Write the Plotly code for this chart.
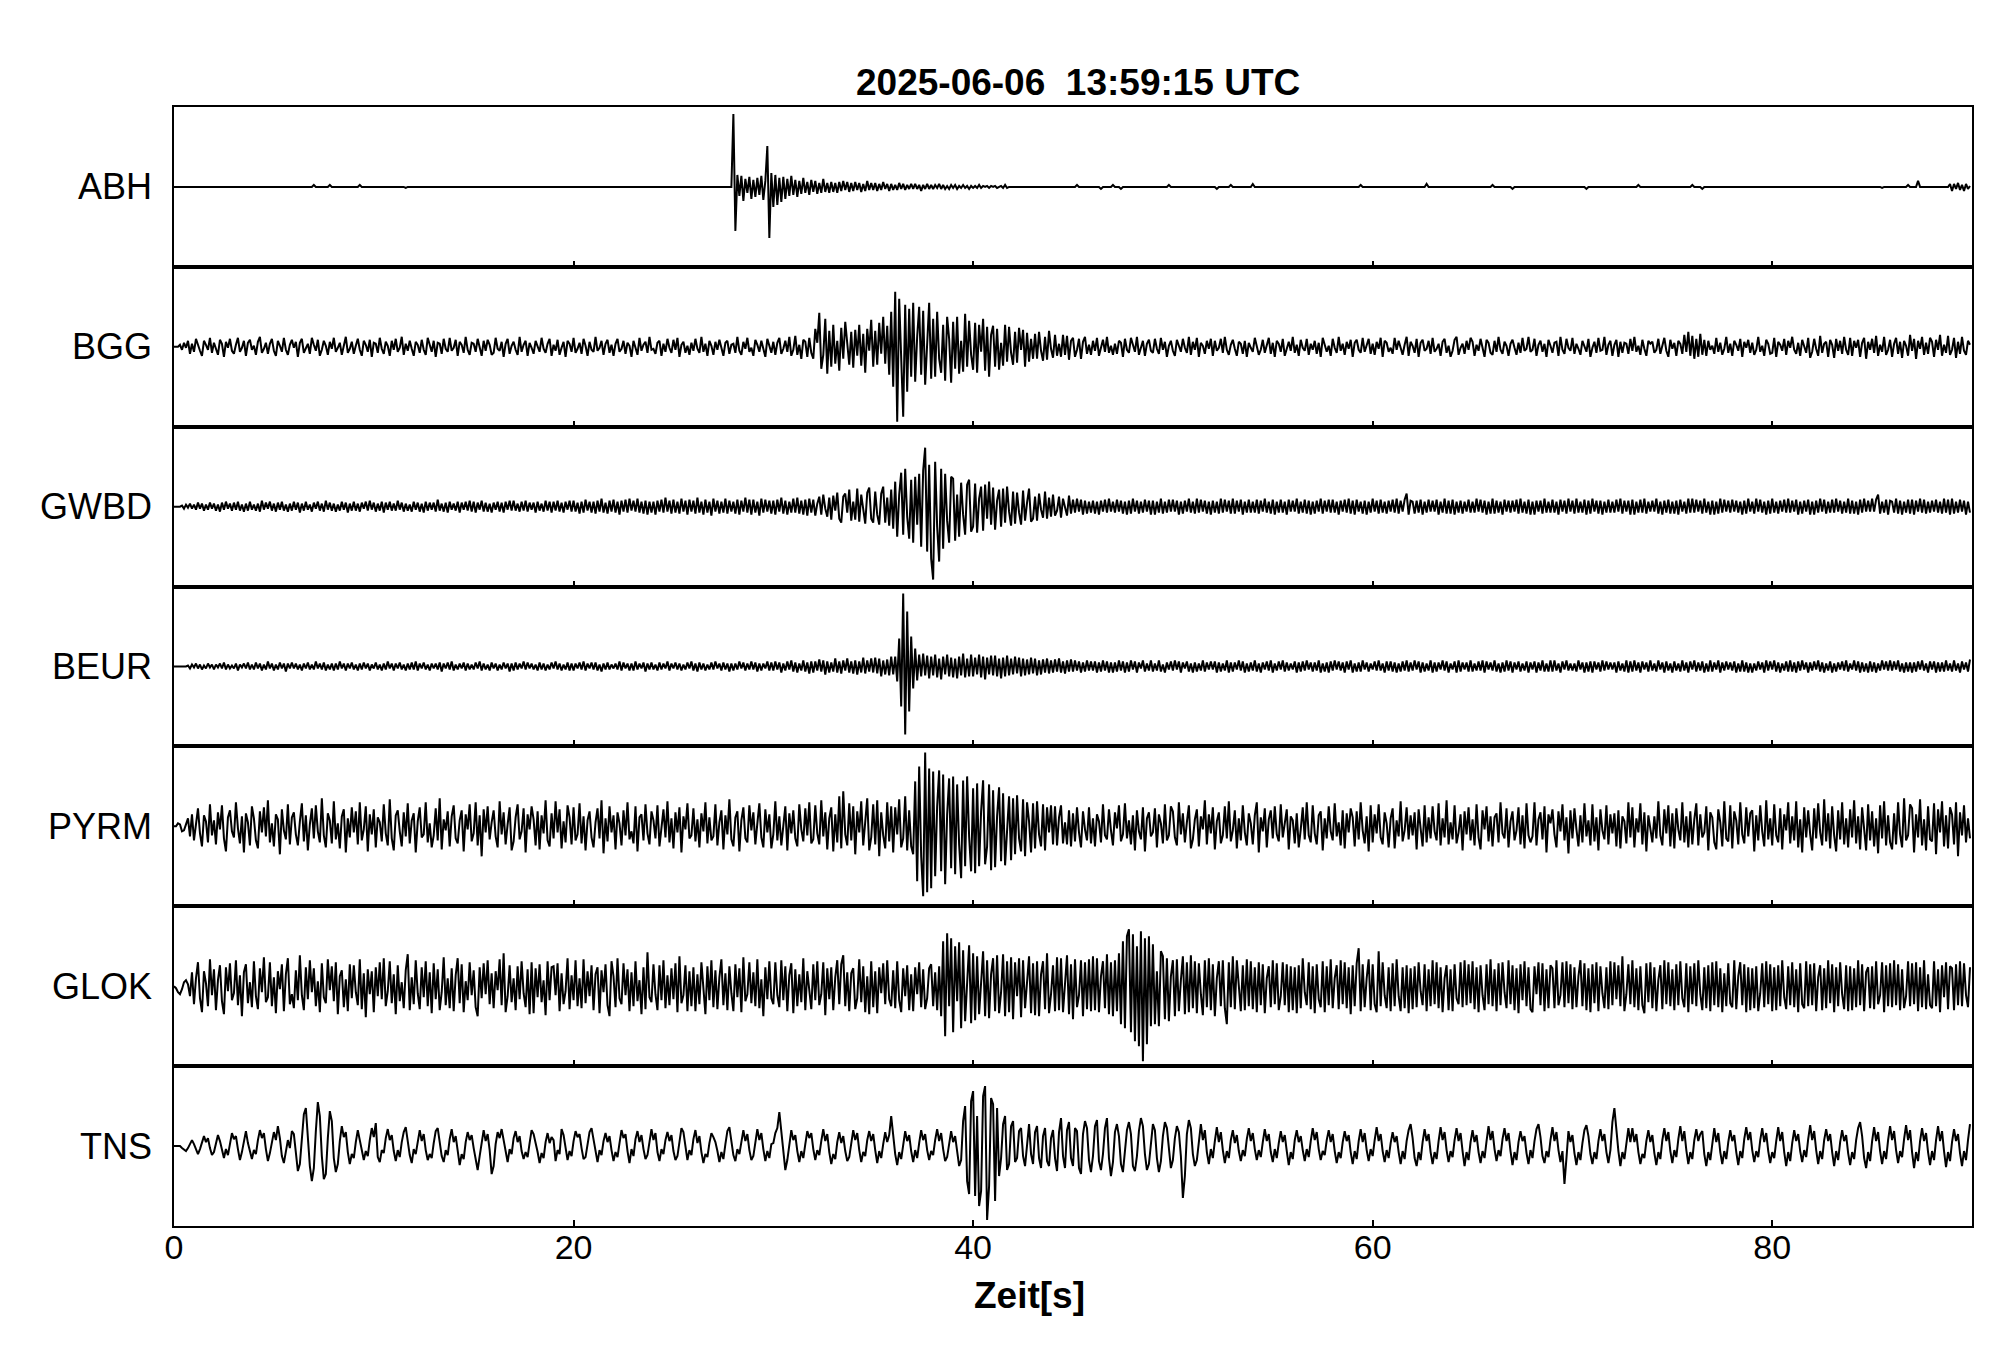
import numpy as np
import plotly.graph_objects as go
from plotly.subplots import make_subplots

# ---------------- data ----------------
DT = 0.1  # sample spacing in seconds, one group of 10 values = one second
title_text = "2025-06-06\u00a0\u00a013:59:15 UTC"
x_label = "Zeit[s]"
x_ticks = [0, 20, 40, 60, 80]
stations = ["ABH", "BGG", "GWBD", "BEUR", "PYRM", "GLOK", "TNS"]

abh = [
0,0,0,0,0,0,0,0,0,0, 0,0,0,0,0,0,0,0,0,0, 0,0,0,0,0,0,0,0,0,0, 0,0,0,0,0,0,0,0,0,0,
0,0,0,0,0,0,0,0,0,0, 0,0,0,0,0,0,0,0,0,0, 0,0,0,0,0,0,0,0,0,0, 2,0,0,0,0,0,0,0,2,0,
0,0,0,0,0,0,0,0,0,0, 0,0,0,2,0,0,0,0,0,0, 0,0,0,0,0,0,0,0,0,0, 0,0,0,0,0,0,-1,0,0,0,
0,0,0,0,0,0,0,0,0,0, 0,0,0,0,0,0,0,0,0,0, 0,0,0,0,0,0,0,0,0,0, 0,0,0,0,0,0,0,0,0,0,
0,0,0,0,0,0,0,0,0,0, 0,0,0,0,0,0,0,0,0,0, 0,0,0,0,0,0,0,0,0,0, 0,0,0,0,0,0,0,0,0,0,
0,0,0,0,0,0,0,0,0,0, 0,0,0,0,0,0,0,0,0,0, 0,0,0,0,0,0,0,0,0,0, 0,0,0,0,0,0,0,0,0,0,
0,0,0,0,0,0,0,0,0,0, 0,0,0,0,0,0,0,0,0,0, 0,0,0,0,0,0,0,0,0,0, 0,0,0,0,0,0,0,0,0,0,
73,-44,12,-9,11,-14,8,-6,10,-12,
7,-10,9,-8,11,-13,6,41,-51,14,
-20,12,-18,9,-15,10,-12,8,-9,11,
-8,7,-10,6,-7,9,-6,5,-8,7,
-5,6,-7,4,-6,8,-5,4,-6,5,
-5,4,-6,5,-4,6,-3,5,-5,4,
-4,5,-3,4,-5,3,-4,6,-3,4,
-3,4,-4,3,-3,5,-2,3,-4,3,
-3,2,-3,4,-2,3,-3,2,-2,3,
-2,3,-2,2,-4,2,-2,3,-2,2,
-2,2,-1,3,-2,2,-2,1,-2,2,
-1,2,-2,1,-1,2,-1,1,-2,1,
-1,1,-1,2,-1,1,0,1,-1,1,
0,1,-1,0,1,-1,2,-1,0,0,
0,0,0,0,0,0,0,0,0,0, 0,0,0,0,0,0,0,0,0,0, 0,0,0,0,0,0,0,0,0,0,
0,0,2,0,0,0,0,0,0,0, 0,0,0,0,-2,0,0,0,0,0, 2,0,0,0,-2,0,0,0,0,0, 0,0,0,0,0,0,0,0,0,0,
0,0,0,0,0,0,0,0,2,0, 0,0,0,0,0,0,0,0,0,0, 0,0,0,0,0,0,0,0,0,0, 0,0,-2,0,0,0,0,0,0,2,
0,0,0,0,0,0,0,0,0,0, 3,0,0,0,0,0,0,0,0,0, 0,0,0,0,0,0,0,0,0,0, 0,0,0,0,0,0,0,0,0,0,
0,0,0,0,0,0,0,0,0,0, 0,0,0,0,0,0,0,0,0,0, 0,0,0,0,2,0,0,0,0,0, 0,0,0,0,0,0,0,0,0,0,
0,0,0,0,0,0,0,0,0,0, 0,0,0,0,0,0,0,3,0,0, 0,0,0,0,0,0,0,0,0,0, 0,0,0,0,0,0,0,0,0,0,
0,0,0,0,0,0,0,0,0,0, 2,0,0,0,0,0,0,0,0,0, -2,0,0,0,0,0,0,0,0,0, 0,0,0,0,0,0,0,0,0,0,
0,0,0,0,0,0,0,0,0,0, 0,0,0,0,0,0,0,-2,0,0, 0,0,0,0,0,0,0,0,0,0, 0,0,0,0,0,0,0,0,0,0,
0,0,0,2,0,0,0,0,0,0, 0,0,0,0,0,0,0,0,0,0, 0,0,0,0,0,0,0,0,0,0, 2,0,0,0,0,-2,0,0,0,0,
0,0,0,0,0,0,0,0,0,0, 0,0,0,0,0,0,0,0,0,0, 0,0,0,0,0,0,0,0,0,0, 0,0,0,0,0,0,0,0,0,0,
0,0,0,0,0,0,0,0,0,0, 0,0,0,0,0,0,0,0,0,0, 0,0,0,0,0,0,0,0,0,0, 0,0,0,0,0,0,0,0,0,0,
0,0,0,0,0,-1,0,0,0,0, 0,0,0,0,0,0,0,0,2,0, 0,0,0,6,0,0,0,0,0,0, 0,0,0,0,0,0,0,0,0,3,
-4,3,-2,4,-3,2,-4,3,-2,1,
]

bgg = [
0,0,0,2,-3,4,-1,6,-7,3, -5,8,1,-4,-9,6,2,-3,9,-6, 4,-2,-8,7,3,-10,5,-1,8,-4,
-7,2,9,-5,-1,6,-9,4,7,-3, 1,-8,5,10,-6,-2,4,-7,3,8, -4,-9,6,1,-5,9,-3,-8,2,7,
-1,5,-10,4,8,-6,-2,3,-7,9, 2,-4,7,-9,-3,6,1,-8,5,-2, 9,-5,-1,4,-8,3,10,-6,-2,5,
-7,1,8,-3,-9,6,2,-5,7,-10, 4,3,-6,9,-2,-7,5,1,-9,6, -3,8,-5,-1,10,-8,3,-4,6,-2,
-9,5,2,-6,7,-3,-8,9,1,-5, 6,-10,4,3,-7,8,-2,-5,9,-4, -1,7,-9,5,2,-6,10,-3,-8,4,
3,-5,8,-1,-9,6,-4,7,2,-8, -6,9,-2,-4,5,-10,3,8,-7,1, 5,-3,-8,10,-5,2,6,-9,4,-1,
-7,6,1,-5,9,-2,-6,3,8,-9, 2,-4,7,-8,-1,5,-10,6,3,-5, 9,-6,-2,4,-7,8,1,-9,5,-3,
-5,10,-4,-1,6,-8,3,7,-6,2, -9,3,8,-5,-2,6,-7,4,1,-10, 6,-1,-8,9,-4,2,5,-6,10,-3,
-2,-7,4,6,-9,3,-5,8,-1,-6, 7,-3,9,-10,2,5,-6,1,-8,4, -4,8,-2,-6,10,-5,3,-9,6,1,
-8,5,-3,7,-1,-9,4,6,-7,2, 3,-6,10,-4,-8,5,-2,9,-5,-1, -9,7,2,-5,6,-3,-10,8,1,-6,
5,-8,4,9,-7,-2,6,-5,10,-9, -3,11,-8,2,-12,7,5,-10,9,-6,
-12,18,4,34,-22,-8,28,-27,16,-20,
22,-17,6,-24,19,-12,25,3,-18,15,
-21,17,-9,22,-19,13,-26,18,-4,27,
-20,16,-18,24,-7,30,-17,21,-28,35,
-40,55,-75,48,-20,-70,42,-45,38,-30,
44,-35,10,40,-28,36,-38,5,44,-32,
28,-30,35,-12,-26,22,-34,30,8,-36,
25,-22,30,-27,6,-25,33,-20,26,-8,
-23,24,-26,22,-5,28,-24,20,-30,12,
21,-20,18,-23,4,-19,22,-15,20,-6,
-18,15,-16,19,-3,17,-20,14,-15,8,
-12,13,-12,15,-4,-14,10,-13,16,-2,
-11,12,-9,3,-10,12,-8,11,-13,6,
9,-10,-3,8,-12,5,10,-7,2,-8, 6,-4,9,-9,-2,7,-5,10,-6,1, -8,3,-7,6,4,-10,8,-3,-6,9,
2,-5,10,-8,-1,6,-9,3,7,-4, -6,8,-2,-7,9,-3,5,-10,1,6, -4,-9,7,2,-5,8,-1,-6,10,-8,
5,-3,9,-10,4,1,-7,6,-2,8, -9,6,-4,-1,8,-6,10,-3,-8,2, 7,-2,-9,5,3,-7,6,-10,4,-1,
-5,9,1,-8,-3,7,-6,2,9,-7, 4,-10,6,3,-5,8,-9,-2,5,-4, 10,-6,2,-9,7,-1,-4,8,-8,3,
-3,6,-7,4,-10,9,2,-5,1,-9, 8,-1,-6,10,-4,3,-8,5,-2,7, -10,4,7,-3,-6,9,-5,1,8,-7,
3,-8,5,-2,9,-10,6,4,-5,-1, -7,9,-3,6,-1,-8,2,10,-9,5, 1,-6,8,-10,4,7,-4,-2,6,-7,
9,-5,-2,3,-9,5,8,-6,1,-10, -4,7,10,-8,-1,3,-7,6,-3,9, 5,-9,2,-4,8,-2,-10,7,4,-6,
-8,6,-5,10,-3,-7,5,1,-9,3, 7,-1,-8,4,-6,9,-4,-2,10,-5, -3,8,-9,2,6,-5,3,-10,7,1,
-6,4,5,-9,10,-3,-7,8,-1,-4, 9,-7,3,-2,-8,6,1,-5,8,-10, -1,5,-6,9,-4,-3,10,-8,2,6,
-9,2,7,-10,5,-6,4,3,-7,8, -4,10,-5,1,-8,7,-2,-9,6,3, 5,-6,-3,8,-7,2,9,-4,-10,7,
-2,4,-9,6,3,-7,12,-5,15,-9, 11,-12,8,-10,13,-8,7,-9,6,-3, 1,-7,9,-5,4,-8,-2,10,-6,3,
-9,6,2,-4,8,-10,5,-1,7,-6, 4,-8,-3,10,-5,1,-9,7,3,-7, -6,9,-10,5,2,-4,8,-8,6,-1,
10,-3,-7,4,-9,7,1,-6,9,-11, -5,8,-2,-9,11,-6,3,5,-10,7, 2,-11,8,-4,6,-7,10,-3,-8,9,
-9,6,-1,7,-10,4,9,-12,5,-3, 8,-6,11,-9,2,-5,10,-8,-3,7, -10,3,9,-7,5,-11,6,1,-9,12,
-4,8,-12,6,-2,10,-8,4,-7,9, 5,-10,7,-3,12,-9,2,-6,11,-8, -3,9,-11,5,-7,10,-4,-8,6,2,
]

gwbd = [
0,0,0,0,1,-2,2,-1,3,-2, 2,-3,4,-2,3,-4,2,-3,4,-2, 3,-4,2,-5,4,-3,5,-2,3,-4,
4,-3,5,-4,2,-5,3,-4,5,-3, 2,-4,3,-5,6,-3,4,-2,5,-4, 3,-5,4,-3,5,-4,2,-5,3,-4,
5,-3,4,-6,3,-4,5,-3,2,-5, 4,-2,5,-4,3,-5,6,-3,4,-4, 3,-5,2,-4,5,-3,4,-6,3,-4,
5,-4,3,-5,4,-2,5,-4,6,-3, 4,-5,3,-4,5,-6,4,-3,5,-4, 3,-4,6,-3,4,-5,3,-4,2,-5,
5,-3,4,-5,3,-6,5,-4,4,-3, 4,-5,7,-4,3,-5,4,-6,5,-3, 3,-4,5,-6,4,-3,5,-4,6,-5,
5,-6,4,-3,6,-5,4,-5,3,-6, 4,-3,5,-5,4,-6,5,-3,6,-4, 6,-4,3,-5,5,-4,6,-5,4,-3,
4,-6,5,-4,3,-5,6,-4,5,-6, 5,-4,6,-5,4,-6,5,-3,6,-5, 6,-5,4,-7,5,-6,7,-4,5,-6,
5,-7,6,-5,8,-6,4,-7,6,-5, 7,-6,5,-8,6,-5,7,-6,8,-4, 6,-5,8,-6,5,-7,6,-8,5,-6,
5,-8,6,-5,7,-6,9,-5,6,-7, 7,-6,5,-7,8,-5,6,-8,7,-5, 6,-7,9,-6,5,-8,7,-6,5,-9,
8,-5,6,-7,5,-6,8,-7,6,-5, 5,-7,7,-8,6,-5,9,-6,7,-8, 7,-6,5,-9,8,-6,7,-5,6,-7,
6,-8,7,-5,9,-7,6,-8,5,-6, 8,-6,9,-7,6,-8,7,-9,8,-6,
7,-9,3,10,-8,12,-2,-10,9,-13,
11,-4,14,-12,-16,10,13,-6,17,-14,
5,-13,18,-15,12,-4,-17,14,19,-12,
-16,15,-8,-18,13,20,-16,9,-19,17,
-22,25,-30,12,34,-28,38,-10,-32,27,
-36,30,-18,33,-40,36,59,-45,42,-52,
-73,45,-20,-55,38,-42,33,-14,-36,30,
28,-34,12,-30,24,-8,-28,22,27,-25,
-20,23,-26,8,20,-24,22,-12,25,-18,
19,-23,6,17,-20,18,-16,20,-5,-19,
15,-17,14,-6,-18,16,-14,4,18,-15,
-12,10,-14,13,-3,-11,15,-12,9,-10,
12,-9,-4,10,-11,8,-2,-9,11,-7,
7,-6,8,-5,7,-8,6,-7,5,-6, 6,-7,5,-8,6,-5,7,-6,8,-5, 5,-6,7,-5,6,-7,5,-8,6,-7,
8,-5,6,-7,5,-6,7,-5,6,-8, 6,-8,5,-6,8,-7,5,-6,7,-5, 7,-5,6,-8,5,-7,6,-5,8,-6,
5,-7,8,-6,7,-5,6,-7,5,-8, 6,-6,5,-7,8,-6,7,-5,6,-7, 8,-7,6,-5,7,-8,5,-6,7,-6,
5,-6,7,-7,6,-5,8,-6,5,-7, 7,-8,5,-6,7,-6,5,-8,7,-5, 6,-5,8,-7,5,-6,7,-7,6,-8,
5,-7,6,-5,8,-7,6,-5,7,-6, 7,-6,5,-8,6,-5,7,-6,8,-7, 6,-8,7,-5,5,-7,6,-8,5,-6,
8,-5,6,-7,7,-6,5,-7,6,-5, 7,-6,8,-7,6,-5,7,13,-8,6, 5,-7,6,-6,7,-8,5,-6,7,-5,
6,-5,7,-8,5,-6,8,-7,6,-7, 7,-8,5,-6,6,-7,5,-5,7,-6, 5,-6,8,-5,7,-6,6,-8,5,-7,
8,-7,6,-6,5,-8,7,-5,6,-6, 6,-5,7,-7,8,-6,5,-7,7,-8, 5,-8,6,-5,6,-7,8,-6,5,-6,
7,-6,5,-8,7,-5,6,-7,8,-5, 6,-7,8,-6,5,-6,7,-8,6,-7, 8,-5,6,-7,6,-8,5,-6,7,-6,
5,-6,7,-5,8,-7,6,-5,6,-8, 7,-8,5,-6,7,-6,8,-7,5,-5, 6,-5,8,-7,5,-8,6,-6,7,-7,
5,-7,6,-8,7,-5,5,-7,8,-6, 8,-6,7,-5,6,-7,8,-6,5,-8, 6,-8,5,-7,8,-6,7,-5,6,-6,
7,-5,6,-6,5,-8,6,-7,8,-5, 5,-7,8,-5,7,-6,5,-8,6,-7, 8,-6,5,-7,6,-5,7,-6,8,-6,
6,-5,7,-8,5,-7,6,-5,7,-8, 5,-8,6,-6,8,-5,7,-7,5,-6, 7,-6,8,-5,6,-7,5,-6,8,-7,
6,-7,5,-8,7,-6,8,-5,6,-5, 8,-5,7,12,-7,5,-6,7,-8,6, 5,-6,8,-7,6,-8,5,-6,7,-7,
7,-8,6,-5,8,-6,7,-7,5,-6, 6,-5,7,-6,5,-7,8,-6,7,-8, 8,-7,5,-6,7,-5,6,-8,5,-6,
]

beur = [
0,0,0,0,0,0,0,1,-2,2, -1,3,-2,2,-3,1,-2,3,-1,2, -3,2,-1,3,-2,4,-3,2,-2,1,
-2,3,-4,2,-1,3,-2,4,-3,2, -3,4,-2,3,-4,2,-3,5,-2,3, -4,2,-3,4,-2,3,-5,3,-2,4,
-2,3,-3,2,-4,3,-2,4,-3,2, -3,5,-2,3,-3,4,-4,2,-3,3, -4,3,-3,5,-2,3,-4,3,-2,4,
-3,2,-4,3,-3,4,-2,3,-4,2, -2,4,-3,2,-4,3,-3,5,-2,3, -4,3,-2,4,-3,2,-4,3,-3,4,
-3,5,-4,3,-2,4,-3,2,-4,3, -2,3,-3,4,-5,3,-2,4,-3,5, -4,2,-3,3,-2,4,-4,3,-3,2,
-3,4,-2,5,-4,3,-3,2,-4,4, -2,3,-4,2,-3,4,-2,3,-5,3, -4,4,-3,3,-2,5,-3,4,-2,3,
-3,2,-4,4,-3,3,-4,2,-3,4, -2,5,-3,3,-4,2,-3,4,-4,3, -4,3,-2,4,-3,5,-4,3,-2,4,
-3,4,-4,2,-5,3,-3,4,-3,2, -2,3,-3,5,-4,4,-2,3,-4,3, -4,5,-3,3,-2,4,-5,3,-3,4,
-3,2,-4,4,-3,3,-2,5,-4,3, -2,4,-3,3,-4,2,-3,4,-2,5, -4,3,-5,4,-3,3,-4,2,-3,4,
-3,5,-2,3,-4,4,-3,3,-5,3, -4,3,-3,5,-2,4,-4,3,-3,5, -3,4,-5,3,-4,3,-2,5,-4,4,
-4,5,-3,4,-6,3,-4,5,-3,6, -5,4,-6,3,-4,6,-5,4,-7,5,
-6,5,-4,7,-5,6,-8,5,-6,4,
-5,8,-6,5,-7,6,-4,8,-6,5,
-7,6,-8,5,-6,9,-7,6,-5,8,
-6,9,-7,8,-10,6,-8,7,-9,10,
-8,10,-15,28,-40,73,-68,55,-45,30,
-22,18,-14,12,-10,13,-9,11,-12,10,
-9,12,-11,8,-13,10,-8,12,-10,9,
-11,8,-12,10,-9,13,-11,8,-10,12,
-10,9,-8,12,-11,10,-13,9,-8,11,
-9,11,-10,8,-12,9,-10,11,-9,8,
-8,10,-7,9,-10,8,-9,7,-8,9,
-7,8,-9,6,-8,7,-6,8,-7,6,
-6,7,-5,8,-6,5,-7,6,-5,7,
-5,6,-4,5,-6,4,-5,6,-4,5, -4,5,-6,4,-5,6,-4,5,-6,4, -6,4,-5,6,-4,5,-6,4,-5,6,
-3,5,-6,4,-2,6,-5,3,-4,6, -5,3,-4,6,-5,2,-6,4,-3,5, -4,6,-3,5,-6,4,-2,5,-5,3,
-6,4,-5,3,-4,6,-5,4,-3,5, -3,5,-6,4,-5,3,-4,6,-6,4, -5,4,-3,6,-4,5,-6,3,-5,4,
-4,6,-5,3,-6,4,-3,5,-4,6, -6,3,-4,5,-3,6,-5,4,-4,3, -3,5,-6,4,-5,5,-4,6,-3,4,
-5,4,-4,6,-6,3,-5,4,-6,5, -4,6,-3,5,-4,4,-6,5,-3,6, -6,3,-5,4,-5,6,-3,4,-5,3,
-3,5,-4,6,-4,3,-6,5,-4,5, -5,4,-6,3,-5,5,-4,6,-5,4, -4,6,-3,5,-6,4,-5,3,-4,6,
-6,4,-5,4,-3,6,-4,5,-6,3, -3,5,-6,6,-5,4,-3,4,-5,6, -5,3,-4,5,-4,6,-6,5,-3,4,
-4,6,-5,3,-6,4,-5,6,-4,5, -6,4,-3,5,-5,3,-4,5,-6,4, -3,5,-6,4,-4,6,-5,3,-5,6,
-5,6,-4,3,-6,5,-3,6,-4,3, -4,3,-5,6,-3,4,-6,4,-5,5, -6,5,-3,4,-5,6,-4,5,-3,4,
-3,4,-6,5,-4,3,-5,6,-6,5, -5,6,-4,4,-6,5,-3,4,-5,6, -4,3,-5,6,-3,4,-6,5,-4,3,
-6,5,-4,3,-5,6,-4,4,-6,5, -3,6,-5,4,-4,5,-6,3,-5,6, -5,4,-3,6,-6,4,-4,5,-3,4,
-4,5,-6,3,-5,6,-5,4,-6,3, -6,3,-4,5,-3,4,-6,6,-4,5, -3,6,-5,4,-6,3,-4,5,-5,6,
-5,4,-6,5,-4,6,-3,4,-6,4, -4,5,-3,6,-5,4,-6,3,-4,5, -6,3,-5,4,-3,5,-4,6,-5,3,
-3,6,-4,5,-6,4,-5,3,-6,5, -5,4,-6,3,-4,6,-3,5,-4,6, -4,5,-3,6,-5,3,-6,4,-5,4,
-6,4,-5,5,-3,6,-4,3,-6,5, -3,5,-6,4,-5,4,-5,6,-4,3, -5,6,-4,3,-6,5,-3,4,-5,7,
]

pyrm = [
0,0,3,2,-5,-4,2,8,-10,12, -14,3,18,-7,-20,11,5,-16,22,-9, 6,-18,14,-3,21,-12,-25,9,16,-5,
-11,24,-2,-17,10,-26,13,4,-19,20, 8,-14,-22,15,-6,19,-10,26,-16,3, -20,12,7,-28,17,-4,-13,22,-18,9,
14,-8,-19,5,23,-15,11,-24,2,18, -12,21,-5,-16,28,-9,-21,13,6,-17, 25,-13,3,-22,10,17,-26,8,-11,19,
-6,15,-18,24,-14,-3,20,-25,12,-8, 17,-21,9,4,-15,22,-7,-19,27,-12, -24,11,16,-5,-20,14,-10,23,-17,6,
13,-26,5,19,-11,-8,24,-16,3,-21, -9,18,-14,28,-23,7,-4,15,-20,10, 21,-12,-17,6,16,-25,12,-3,22,-15,
-7,24,-19,11,-30,17,-6,20,-13,4, 16,-10,-21,25,-8,14,-18,2,19,-24, -15,9,22,-13,-5,18,-26,12,-3,20,
7,-19,15,-23,11,-7,26,-14,-20,13, -12,25,-6,17,-22,5,-16,21,9,-18, 19,-14,-8,23,-17,10,-24,6,15,-11,
-21,4,18,-12,26,-27,8,-15,20,-6, 11,-23,14,3,-19,16,-9,24,-13,-5, -17,20,-25,9,12,-14,22,-7,-18,15,
6,-12,21,-20,-4,17,-11,25,-16,8, -22,14,-6,19,-26,10,-3,23,-12,-9, 18,-15,7,-21,13,-5,24,-17,9,-14,
-10,22,-19,4,16,-23,11,-8,27,-13, -20,9,15,-25,6,19,-12,-16,21,-4, 14,-18,3,23,-11,-21,17,-6,12,-22,
-8,25,-14,10,-19,5,20,-24,13,-7, 16,-12,-20,22,-3,-15,18,-9,24,-17, -13,21,-7,-18,26,-10,14,-23,8,19,
-25,12,-16,30,-22,35,-8,-19,23,-14,
20,-28,15,-6,25,-19,9,28,-24,-11,
22,-18,26,-30,14,-9,-22,24,-15,20,
-26,19,-8,27,-21,-12,30,-24,16,-20,
-28,45,-55,60,-30,-70,74,-66,58,-62,
55,-50,20,56,-45,52,-58,12,48,-42,
50,-48,42,-18,-52,46,-40,50,-10,-45,
38,-47,43,-40,15,46,-38,-20,42,-44,
36,-41,10,39,-35,33,-39,-8,30,-34,
28,-28,31,-12,-25,27,-30,24,5,-26,
23,-22,25,-8,-20,22,-24,19,-6,21,
-18,20,-19,9,21,-17,4,-18,16,-20,
13,-15,19,-6,-21,15,-3,-14,19,-17,
8,-20,12,5,-16,22,-9,-13,17,-4, -19,14,-2,21,-15,-8,23,-12,6,-18, 11,-24,16,-5,-13,19,-25,8,14,-10,
-6,18,-21,12,3,-17,22,-14,-9,20, 15,-11,-19,24,-8,13,-16,4,21,-22, -13,7,17,-20,10,-3,26,-18,12,-7,
19,-23,5,14,-17,-9,20,-12,25,-15, -4,16,-22,8,-14,21,-6,-19,13,3, -18,11,24,-26,9,-5,18,-21,7,16,
-12,20,-8,-15,22,-11,4,17,-23,10, 6,-17,13,-21,-3,19,-13,24,-9,-16, 21,-7,-18,11,15,-24,8,-12,20,-5,
-14,23,-10,4,-19,16,-22,13,-6,18, 9,-20,15,-13,24,-4,-17,10,-25,21, -16,12,-7,22,-11,-18,14,3,-21,8,
18,-22,6,-10,25,-15,-4,19,-13,11, -9,14,-23,17,-2,-20,21,-16,9,-12, 20,-5,-14,23,-19,8,-11,26,-18,4,
-13,21,-17,-6,12,-24,15,-8,19,-14, 7,-19,22,-11,-23,16,-3,20,-15,10, -20,9,13,-16,24,-7,-12,18,-21,5,
15,-14,-4,19,-18,11,-22,23,-9,-16, -10,24,-19,7,14,-13,20,-26,12,3, 17,-8,-21,15,-5,22,-14,9,-27,16,
-12,18,-3,-20,11,-16,23,-10,6,-19, 22,-15,9,-24,17,-4,-13,21,-18,12, -7,13,-20,16,-22,10,5,-17,24,-11,
19,-21,8,-6,23,-18,14,-25,11,-4, -16,10,-12,25,-9,-19,17,-7,21,-20, 13,-22,18,-3,-14,24,-16,10,-21,15,
-18,7,23,-19,12,-11,-6,20,-24,14, 9,-16,-23,17,4,-20,25,-12,-15,21, -22,15,6,-18,24,-8,-17,19,-10,13,
16,-25,11,-14,21,-5,-20,26,-13,8, -19,22,-9,-16,18,-23,12,-4,24,-17, 10,-14,25,-21,7,-26,19,-11,16,-8,
-24,18,-12,23,-6,-19,27,-15,13,-22, 20,-9,-25,16,-13,24,-18,8,-21,17, -11,26,-17,10,-23,19,-6,-24,22,-14,
15,-20,8,-27,21,-12,25,-19,11,-16, -23,13,-18,24,-8,-21,28,-14,-9,22, 18,-26,12,-11,27,-19,7,-24,20,-13,
-15,23,-28,17,-6,25,-20,11,-22,19, 12,-18,24,-30,14,-9,21,-16,8,-12,
]

glok = [
0,-2,-6,-8,-3,4,6,2,-10,14, -18,8,24,-12,-26,15,3,-20,27,-9, 17,-24,6,21,-15,-28,19,-5,23,-14,
-7,26,-19,11,-30,14,22,-17,4,-21, 25,-10,-23,18,-6,29,-16,-11,24,-20, 9,-27,15,-3,22,-25,12,28,-18,-8,
-22,16,-14,31,-9,-24,19,-13,26,-6, 18,-20,5,-26,23,-11,-17,27,-4,20, -15,24,-28,10,16,-21,7,-25,22,-12,
21,-6,-19,27,-23,13,-31,17,-8,15, -26,19,-10,24,-13,28,-20,-5,25,-17, 12,-28,21,-15,4,-22,16,32,-24,9,
-18,26,-7,-23,19,-11,25,-20,14,-27, 23,-13,17,-24,-6,29,-19,8,-22,18, -25,11,28,-17,22,-26,5,-14,24,-9,
16,-21,-30,19,-12,23,-8,26,-18,13, -22,15,-4,27,-19,33,-26,-10,21,-16, 8,-24,20,-13,25,-7,-21,17,-28,24,
-27,18,-11,22,-16,6,-29,25,-14,19, 20,-9,23,-25,13,-18,-5,28,-23,11, -14,26,-20,8,-22,27,-17,15,-10,21,
-24,12,19,-27,16,-6,22,-19,-30,25, 10,-21,28,-12,-18,23,-9,17,-25,14, -20,25,-15,6,-28,19,-23,34,-11,-16,
22,-8,-24,21,-14,26,-22,11,-19,18, -13,23,-26,30,-17,-9,21,-25,15,-20, 19,-25,12,-18,24,-6,-28,20,-14,26,
-21,16,-23,9,27,-19,13,-24,20,-7, -25,22,-11,18,-26,29,-15,-8,24,-17, 14,-20,27,-22,7,-30,19,-13,25,-12,
-18,24,-9,-21,26,-14,20,-25,11,23, -27,17,-20,12,-16,28,-24,15,-6,-23, 22,-14,25,-19,-8,24,-29,18,-13,19,
-24,9,26,-18,22,31,-20,14,-25,13, 18,-23,-12,27,-16,20,-26,10,-28,25, -21,15,-27,19,-7,23,-18,26,-13,-20,
16,-22,25,-14,-26,18,-10,21,-24,12, -25,19,-8,24,-21,17,-23,-12,18,22,
-20,14,-24,20,-30,45,-50,53,-20,48,
-46,40,-15,44,-42,36,-35,10,41,-37,
33,-34,30,-28,8,35,-30,26,-32,12,
28,-25,31,-27,-6,32,-30,25,-26,29,
-33,24,-10,28,-31,26,-22,5,30,-27,
23,-29,25,-30,12,25,-23,33,-27,-8,
21,-25,29,-24,28,-26,6,31,-28,22,
-33,27,-21,-9,26,-30,24,-23,27,-25,
30,-24,28,-26,10,25,-22,32,-28,24,
-30,26,-25,33,-38,45,-42,50,57,-46,
52,-55,40,-60,55,-75,48,-58,50,-40,
42,-38,15,-40,35,30,-33,28,-35,10,
26,-30,27,-25,6,30,-28,24,-26,31,
-22,25,-27,23,-8,-29,26,-21,28,-24,
22,-30,8,25,-20,26,-22,-38,24,-21,
30,-23,26,-5,-25,21,-24,27,-20,25,
-23,19,-26,24,-19,22,-27,8,20,-21,
26,-18,23,-24,-10,24,-19,22,-26,20,
-24,19,-27,21,-22,28,-6,-19,24,-23,
20,-27,22,-13,-21,25,-26,20,-19,27,
-22,8,21,-23,26,-18,24,-22,19,-28,
21,-20,23,38,-25,22,-21,8,27,-24,
22,-18,-26,35,-20,24,-9,-22,19,-25,
23,-20,27,-10,-25,19,-22,21,-27,18, -23,20,-21,24,-5,-19,22,-25,17,-20, 26,-18,24,-22,19,-26,8,21,-24,17,
-25,22,-12,-18,24,-21,26,-19,22,-17, 25,-23,19,-26,21,-9,-24,22,-18,27, -20,17,-25,23,-19,24,-6,-22,26,-18,
21,-24,18,-27,22,-14,25,-20,19,-23, -26,20,-8,24,-19,23,-25,17,-22,21, 18,-22,26,-19,-9,24,-21,25,-17,22,
-23,19,-21,10,26,-20,23,-24,18,-26, 22,-17,24,-25,20,-7,-22,19,-23,25, -19,24,-13,21,-20,30,-25,-8,22,-18,
26,-21,18,-24,20,-19,-27,23,-16,24, -22,19,-25,6,21,-23,26,-18,24,-20, 17,-24,22,-19,25,-12,-21,23,-26,20,
-18,23,-20,26,-8,-24,19,-22,21,-25, 24,-19,25,-21,18,-26,13,-20,23,-17, -21,26,-23,10,24,-19,22,-26,19,-24,
18,-22,20,-25,-7,23,-21,25,-18,22, -25,19,-24,21,-20,26,-11,-23,20,-19, 24,-21,17,-26,23,-18,-22,25,-20,22,
-19,23,-25,9,21,-24,18,-22,26,-17, 22,-26,19,-20,24,-8,-23,21,-25,20, -24,18,-21,26,-19,22,-25,14,19,-22,
20,-23,25,-18,-9,24,-26,21,-20,23, -21,26,-19,22,-24,17,-22,-10,25,-20, 23,-18,24,-25,19,-21,26,-23,12,-19,
-22,25,-20,17,-26,21,-11,24,-23,20, 18,-24,22,-19,25,-20,23,-9,-21,19,
]

tns = [
0,0,0,0,-2,-4,-5,-2,3,6, 2,-4,-8,-3,5,10,4,8,-2,-9, -6,3,11,5,-4,-12,-3,-9,2,13,
7,10,-3,-14,-6,4,15,3,-5,-13, -4,-8,6,16,8,13,-3,-15,-7,5, 14,6,20,8,-10,-17,-5,6,-2,15,
12,-8,-25,-18,10,32,38,12,-20,-35, -22,15,44,30,-10,-33,-28,8,35,25, -12,-26,-18,5,20,9,14,-6,-18,-8,
-12,4,16,6,-3,-14,-5,-10,6,18, 9,23,-11,-16,-4,-7,8,17,6,11, -5,-15,-4,-11,4,14,19,3,-9,-17,
-3,-8,6,16,5,12,-4,-14,-8,-12, 3,15,18,2,-10,-16,-4,-9,7,17, 4,10,-6,-19,-8,-13,4,14,6,11,
-2,-12,-24,-10,6,16,5,12,-4,-28, -20,2,14,8,17,6,-9,-16,-3,-8, 8,15,4,10,-5,-13,-6,-11,3,16,
12,4,-6,-17,-7,-12,4,13,3,9, 6,-15,-4,-8,17,11,-3,-14,-5,-10, 5,15,9,12,-2,-13,-11,4,14,18,
6,-8,-16,-4,-9,5,13,4,10,-4, -15,-6,-11,3,16,8,12,-5,-17,-3, -10,7,15,4,11,-3,-13,-9,4,17,
6,13,-6,-15,-3,-8,6,14,5,11, -5,-14,-10,4,18,14,-2,-14,-4,-9, 7,16,3,10,-6,-17,-8,-11,3,13,
9,4,-5,-16,-6,-13,2,15,19,7, -9,-15,-3,-8,6,16,5,12,-4,-14, -10,4,17,6,13,-3,-15,-5,-12,2,
3,13,18,34,15,-8,-24,-14,4,16, 6,11,-5,-16,-5,-12,2,15,8,13, -3,-14,-4,-9,5,17,5,12,-6,-18,
-8,-13,4,14,3,10,-5,-15,-11,3, 16,6,13,-4,-16,-6,-10,6,15,5, 12,-4,-17,-5,-12,2,14,4,11,30,
12,-8,-19,-6,-13,4,15,5,11,-5, -16,-4,-12,3,16,6,12,-4,-14,-5, -9,6,17,5,13,-3,-15,-11,5,15,
4,10,-5,-20,-14,25,40,-35,-48,45,
55,-50,30,-60,-45,50,60,-74,-40,48,
42,-55,38,-30,-12,22,30,-24,-18,20,
25,-16,-12,15,18,-10,-20,3,22,-8,
-18,14,20,-12,-22,10,18,-15,-20,8,
16,-12,-25,14,28,-10,-22,16,24,-12,
-20,18,15,-22,-28,12,25,18,-14,-26,
-10,20,26,-15,-24,-8,18,28,-12,-30,
-16,14,22,10,-18,-26,-8,16,24,12,
-20,-25,-10,15,28,20,-8,-24,-18,6,
22,16,-12,-26,-15,10,24,18,-6,-22,
-14,8,20,14,-10,-52,-30,12,26,18,
-8,-20,-14,8,22,6,16,-6,-18,-3, -12,5,19,4,14,-4,-17,-5,-12,6, 16,3,11,-5,-15,-4,-10,7,18,5,
13,-3,-14,-4,-11,4,17,5,12,-6, -16,-3,-12,3,15,4,11,-5,-19,-6, -13,6,16,4,10,-4,-15,-3,-11,5,
18,6,14,-3,-14,-5,-9,6,16,4, 12,-5,-17,-6,-12,4,15,5,11,-6, -18,-5,-13,5,17,4,13,-4,-15,-3,
-10,6,19,5,12,-5,-16,-4,-12,3, 14,4,10,-6,-18,-5,-13,5,16,22, 8,-12,-20,-6,-14,4,17,5,12,-6,
-18,-6,-13,5,19,6,14,-4,-16,-5, -11,6,18,5,13,-5,-20,-6,-14,4, 16,4,11,-6,-17,-5,-12,5,20,6,
15,-3,-15,-4,-10,7,18,5,13,-5, -19,-6,-14,4,15,5,10,-7,-18,-4, -12,5,17,22,9,-10,-17,-5,-11,6,
19,5,14,-4,-16,-5,-38,-12,15,4, 11,-7,-19,-6,-14,3,16,21,10,-8, -18,-6,-13,5,17,5,12,-6,-17,-4,
24,38,14,-5,-20,-6,-13,6,18,4, 18,4,12,-6,-18,-8,-12,5,16,4, 11,-7,-19,-6,-13,6,18,5,14,-5,
-17,-4,-11,7,20,5,15,-4,-18,-6, -13,6,17,5,12,15,-8,-20,-6,-14, 5,18,4,13,-6,-18,-5,-13,4,16,
5,11,-6,-19,-5,-12,7,19,6,14, -4,-16,-5,-11,6,18,4,13,-5,-17, -6,-12,5,19,5,14,-6,-20,-6,-15,
3,16,5,12,-5,-16,-4,-11,7,21, 6,15,-4,-18,-5,-13,6,17,5,12, -6,-20,-5,-14,4,16,5,11,-7,-19,
-6,-13,6,18,24,10,-12,-22,-6,-15, 5,19,5,14,-5,-18,-5,-13,6,20, 6,15,-4,-17,-5,-11,7,21,6,16,
-6,-22,-6,-15,5,18,5,13,-6,-19, -5,-14,6,20,5,15,-5,-21,-6,-15, 4,17,5,12,-7,-20,-5,-14,6,22,
]

series = [abh, bgg, gwbd, beur, pyrm, glok, tns]
amp_range = [-80, 80]

# ---------------- figure ----------------
FONT = "Liberation Sans, Arial, Helvetica, sans-serif"
n = len(stations)
fig = make_subplots(rows=n, cols=1, shared_xaxes=True, vertical_spacing=0)

for i, (name, vals) in enumerate(zip(stations, series), start=1):
    t = np.arange(len(vals)) * DT
    fig.add_trace(
        go.Scatter(x=t, y=vals, mode="lines",
                   line=dict(color="black", width=2),
                   showlegend=False, hoverinfo="skip"),
        row=i, col=1)
    fig.update_yaxes(row=i, col=1, range=amp_range, showticklabels=False,
                     ticks="", showgrid=False, zeroline=False,
                     showline=True, linecolor="black", linewidth=2, mirror=True)
    yref = "y domain" if i == 1 else f"y{i} domain"
    fig.add_annotation(text=name, xref="paper", x=0, xanchor="right", xshift=-20,
                       yref=yref, y=0.5, yanchor="middle", showarrow=False,
                       font=dict(family=FONT, size=36, color="black"))

fig.update_xaxes(range=[0, 90], tickvals=x_ticks, ticks="inside", ticklen=6,
                 tickwidth=2, tickcolor="black", showline=True, linecolor="black",
                 linewidth=2, mirror=True, showgrid=False, zeroline=False,
                 tickfont=dict(family=FONT, size=34, color="black"))
fig.update_xaxes(row=n, col=1, ticklabelstandoff=-10)

W, H = 2005, 1361
L, R, T, B = 174, 33, 107, 135
ph = H - T - B
fig.add_annotation(text="<b>" + title_text + "</b>", xref="paper", yref="paper",
                   x=0.503, y=1 + (T - 82) / ph, xanchor="center", yanchor="middle",
                   showarrow=False, font=dict(family=FONT, size=37, color="black"))
fig.add_annotation(text="<b>" + x_label + "</b>", xref="paper", yref="paper",
                   x=(1029 - L) / (W - L - R), y=-(1295 - (H - B)) / ph,
                   xanchor="center", yanchor="middle",
                   showarrow=False, font=dict(family=FONT, size=37, color="black"))

fig.update_layout(width=W, height=H, margin=dict(l=L, r=R, t=T, b=B),
                  paper_bgcolor="white", plot_bgcolor="white",
                  font=dict(family=FONT, color="black"))

fig.write_html("out.html", config={"displayModeBar": False},
               post_script="document.body.style.margin='0px';")
